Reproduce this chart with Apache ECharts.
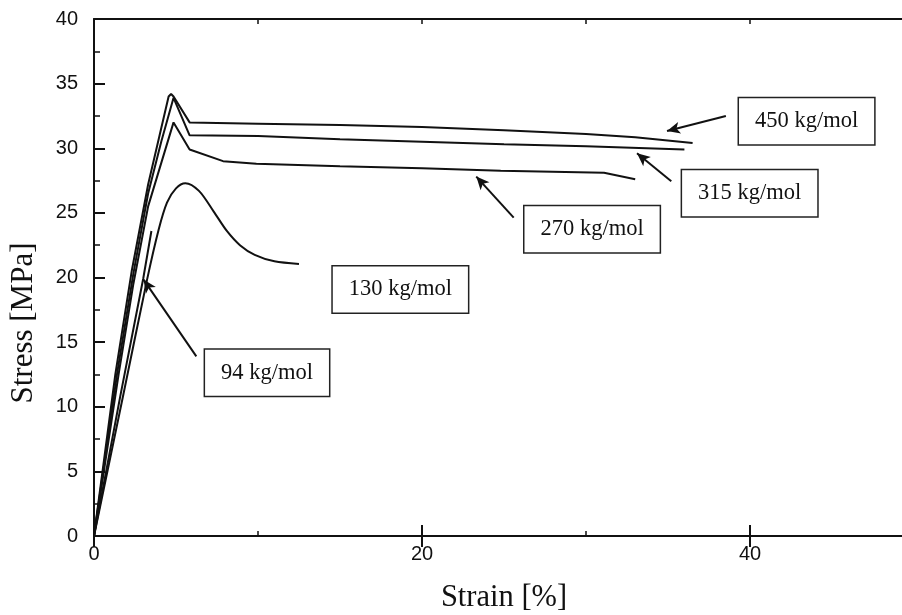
<!DOCTYPE html>
<html>
<head>
<meta charset="utf-8">
<script src="https://cdn.jsdelivr.net/npm/echarts@6/dist/echarts.min.js"></script>
<style>
  html, body { margin: 0; padding: 0; background: #fff; overflow: hidden; }
  #chart { width: 902px; height: 615px; }
</style>
</head>
<body>
<div id="chart"></div>
<script>
// Stress–strain curves, [strain %, stress MPa], one per molecular weight
const mw450 = [[0, 0], [1.3, 12.5], [2.3, 20.5], [3.3, 27.2], [4.0, 31.0], [4.55, 34.0], [4.7, 34.2], [4.85, 34.0],
  [5.83, 32.0], [10, 31.9], [15, 31.8], [20, 31.65], [25, 31.4], [30, 31.1], [33, 30.85], [36.5, 30.4]];
const mw315 = [[0, 0], [1.4, 12.5], [2.4, 20.3], [3.3, 26.5], [4.1, 30.5], [4.85, 33.9],
  [5.83, 31.0], [10, 30.95], [15, 30.7], [20, 30.5], [25, 30.3], [30, 30.15], [36, 29.9]];
const mw270 = [[0, 0], [1.5, 12.5], [2.4, 19.5], [3.3, 25.5], [4.85, 32.0],
  [5.83, 29.9], [7.87, 29.0], [9.9, 28.8], [15, 28.6], [20, 28.45], [24.8, 28.25], [31.1, 28.1], [33, 27.6]];
const mw130 = [[0, 0], [1.8, 11.0], [3.23, 19.8], [3.94, 23.7], [4.45, 25.8], [5.0, 26.9], [5.57, 27.3],
  [6.4, 26.7], [7.3, 25.1], [8.1, 23.6], [8.9, 22.5], [9.8, 21.75], [11.0, 21.25], [12.5, 21.05]];
const mw94 = [[0, 0], [1.6, 10.8], [3.0, 19.9], [3.5, 23.6]];

// Curve labels
const labelNames = ['450 kg/mol', '315 kg/mol', '270 kg/mol', '130 kg/mol', '94 kg/mol'];

// Tick labels
const xTickLabels = [0, 20, 40];
const yTickLabels = [0, 5, 10, 15, 20, 25, 30, 35, 40];

// Label box centres and arrows (tail -> head), in data coordinates
const labelAnchors = [[43.45, 32.09], [39.98, 26.51], [30.37, 23.74], [18.68, 19.07], [10.55, 12.64]];
const arrowPaths = [
  [[38.53, 32.5], [34.94, 31.34]],
  [[35.2, 27.44], [33.11, 29.61]],
  [[25.59, 24.63], [23.31, 27.81]],
  null,
  [[6.24, 13.9], [3.02, 19.84]]
];

const curves = [mw450, mw315, mw270, mw130, mw94];
const ink = '#111';
const sansFont = 'Liberation Sans, Arial, sans-serif';
const serifFont = 'Liberation Serif, Times New Roman, serif';

const chart = echarts.init(document.getElementById('chart'), null, { renderer: 'canvas' });

function xAxisPair(position) {
  const showLabel = position === 'bottom';
  return [
    {
      type: 'value', position, min: 0, max: 50, interval: 10,
      axisLine: { show: true, onZero: false, lineStyle: { color: ink, width: 2 } },
      axisTick: { show: true, inside: true, length: 5, lineStyle: { color: ink, width: 1.5 } },
      axisLabel: {
        show: showLabel, margin: 8, color: ink, fontFamily: sansFont, fontSize: 20,
        formatter: v => (xTickLabels.indexOf(v) >= 0 ? String(v) : '')
      },
      splitLine: { show: false }
    },
    {
      type: 'value', position, min: 0, max: 50, interval: 10,
      axisLine: { show: false },
      axisTick: { show: true, inside: true, length: 11, customValues: xTickLabels, lineStyle: { color: ink, width: 2 } },
      axisLabel: { show: false },
      splitLine: { show: false }
    }
  ];
}

function yAxisSide(position) {
  return {
    type: 'value', position, min: 0, max: 40, interval: 5,
    axisLine: { show: true, onZero: false, lineStyle: { color: ink, width: 2 } },
    axisTick: { show: true, inside: true, length: 11, lineStyle: { color: ink, width: 2 } },
    minorTick: { show: true, splitNumber: 2, length: 6, lineStyle: { color: ink, width: 1.5 } },
    axisLabel: {
      show: position === 'left', margin: 16, color: ink, fontFamily: sansFont, fontSize: 20,
      formatter: v => (yTickLabels.indexOf(v) >= 0 ? String(v) : '')
    },
    splitLine: { show: false },
    minorSplitLine: { show: false }
  };
}

const series = curves.map((data, i) => {
  const s = {
    name: labelNames[i],
    type: 'line',
    data,
    xAxisIndex: 0,
    yAxisIndex: 0,
    symbol: 'none',
    smooth: i === 3 ? 0.3 : false,
    lineStyle: { color: ink, width: 2 },
    silent: true,
    markPoint: {
      symbol: 'rect',
      symbolSize: 1,
      itemStyle: { color: 'rgba(0,0,0,0)' },
      silent: true,
      label: {
        show: true,
        position: 'inside',
        formatter: labelNames[i],
        color: ink,
        fontFamily: serifFont,
        fontSize: 22.5,
        backgroundColor: '#fff',
        borderColor: '#222',
        borderWidth: 1.5,
        padding: [12, 16, 11, 16]
      },
      data: [{ coord: labelAnchors[i] }]
    }
  };
  if (arrowPaths[i]) {
    s.markLine = {
      silent: true,
      symbol: ['none', 'arrow'],
      symbolSize: [9, 13],
      lineStyle: { color: ink, width: 2, type: 'solid' },
      label: { show: false },
      data: [[{ coord: arrowPaths[i][0] }, { coord: arrowPaths[i][1] }]]
    };
  }
  return s;
});

chart.setOption({
  animation: false,
  backgroundColor: '#fff',
  // The plot frame runs past the right edge of the page
  grid: { left: 94, top: 19, width: 820, height: 517, outerBoundsMode: 'none', containLabel: false },
  xAxis: [...xAxisPair('bottom'), ...xAxisPair('top')],
  yAxis: [yAxisSide('left'), yAxisSide('right')],
  series,
  graphic: [
    {
      type: 'text', x: 24, y: 323, rotation: Math.PI / 2,
      style: { text: 'Stress [MPa]', font: '31px ' + serifFont, fill: ink, align: 'center', verticalAlign: 'middle' }
    },
    {
      type: 'text', x: 504, y: 598,
      style: { text: 'Strain [%]', font: '30.5px ' + serifFont, fill: ink, align: 'center', verticalAlign: 'middle' }
    }
  ]
});
</script>
</body>
</html>
